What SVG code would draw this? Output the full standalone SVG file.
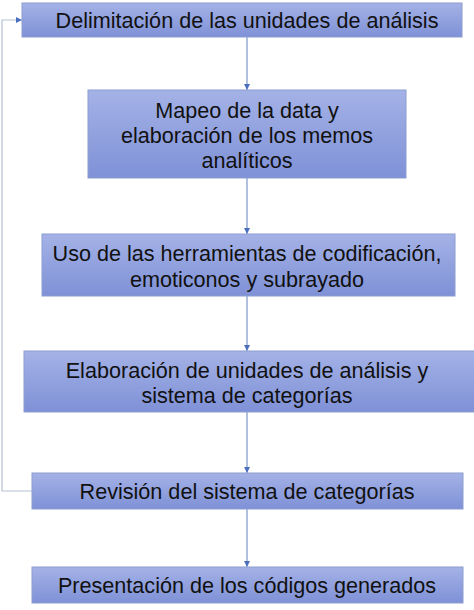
<svg xmlns="http://www.w3.org/2000/svg" width="474" height="610" viewBox="0 0 474 610">
<defs>
<linearGradient id="g" x1="0" y1="0" x2="0" y2="1">
<stop offset="0" stop-color="#a4b2e6"/>
<stop offset="1" stop-color="#7f91d7"/>
</linearGradient>
<marker id="ah" viewBox="0 0 10 10" refX="10" refY="5" markerWidth="6" markerHeight="6" orient="auto" markerUnits="userSpaceOnUse">
<path d="M0,0 L10,5 L0,10 z" fill="#4a6fbf"/>
</marker>
<style>
.box{fill:url(#g);stroke:#8d9dcf;stroke-width:1}
.t{font-family:"Liberation Sans",Arial,sans-serif;font-size:21.6px;fill:#111;text-anchor:middle}
.c{fill:none;stroke:#7d96c8;stroke-width:1.2}
.fb{fill:none;stroke:#b4c2d2;stroke-width:1.2}
</style>
</defs>
<rect width="474" height="610" fill="#ffffff"/>
<g id="connectors">
<line class="c" x1="247" y1="37" x2="247" y2="90" marker-end="url(#ah)"/>
<line class="c" x1="247" y1="178" x2="247" y2="234" marker-end="url(#ah)"/>
<line class="c" x1="247" y1="296" x2="247" y2="351" marker-end="url(#ah)"/>
<line class="c" x1="247" y1="412" x2="247" y2="473" marker-end="url(#ah)"/>
<line class="c" x1="247" y1="509" x2="247" y2="567" marker-end="url(#ah)"/>
<polyline class="fb" points="32,491 2,491 2,20 22,20" marker-end="url(#ah)"/>
</g>
<g id="n1">
<rect class="box" x="22" y="3" width="440" height="34"/>
<text class="t" x="247" y="28">Delimitación de las unidades de análisis</text>
</g>
<g id="n2">
<rect class="box" x="88" y="90" width="318" height="88"/>
<text class="t" x="247" y="118">Mapeo de la data y</text>
<text class="t" x="247" y="143">elaboración de los memos</text>
<text class="t" x="247" y="168">analíticos</text>
</g>
<g id="n3">
<rect class="box" x="42" y="234" width="413" height="62"/>
<text class="t" x="247" y="261">Uso de las herramientas de codificación,</text>
<text class="t" x="247" y="287">emoticonos y subrayado</text>
</g>
<g id="n4">
<rect class="box" x="24" y="351" width="452" height="61"/>
<text class="t" x="247" y="378">Elaboración de unidades de análisis y</text>
<text class="t" x="247" y="403">sistema de categorías</text>
</g>
<g id="n5">
<rect class="box" x="32" y="473" width="431" height="36"/>
<text class="t" x="247" y="499">Revisión del sistema de categorías</text>
</g>
<g id="n6">
<rect class="box" x="32" y="567" width="431" height="36"/>
<text class="t" x="247" y="593">Presentación de los códigos generados</text>
</g>
</svg>
